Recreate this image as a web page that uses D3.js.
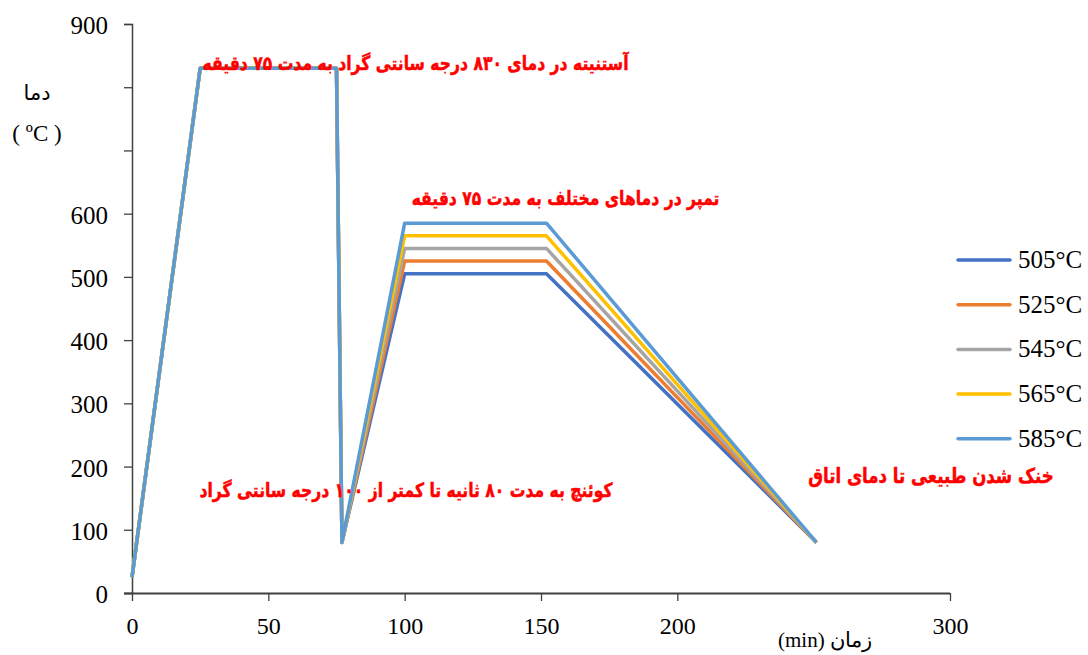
<!DOCTYPE html>
<html><head><meta charset="utf-8">
<script src="https://cdn.jsdelivr.net/npm/d3@7"></script>
<style>body{margin:0;background:#fff}svg{display:block}</style>
</head><body>
<script>
const seriesNames = ["505°C","525°C","545°C","565°C","585°C"];
const temperTemps = [505,525,545,565,585];
const seriesColors = ["#4472C4","#ED7D31","#A5A5A5","#FFC000","#5B9BD5"];
// time points (min) of the heat-treatment cycle
const times = [0, 25, 75, 77, 100, 152, 251];
// temperature profile shared by all series, null = tempering temperature
const baseTemps = [25, 830, 830, 80, null, null, 80];
const xTicks = [0,50,100,150,200,300];
const yTicks = [0,100,200,300,400,500,600,700,800,900];
const yLabels = [0,100,200,300,400,500,600,900];
const notes = [
  {text:"آستنیته در دمای ۸۳۰ درجه سانتی گراد به مدت ۷۵ دقیقه", x:104, y:827, size:15.6},
  {text:"تمپر در دماهای مختلف به مدت ۷۵ دقیقه", x:159, y:614, size:15.6},
  {text:"کوئنچ به مدت ۸۰ ثانیه تا کمتر از ۱۰۰ درجه سانتی گراد", x:100.5, y:152, size:15.6},
  {text:"خنک شدن طبیعی  تا دمای اتاق", x:293, y:174, size:16.6}
];

const W=1088,H=655;
const svg=d3.select("body").append("svg").attr("width",W).attr("height",H);
const x=d3.scaleLinear().domain([0,300]).range([132,950]);
const y=d3.scaleLinear().domain([0,900]).range([593,24]);
const serif="'Liberation Serif','Times New Roman',serif";
const axisColor="#404040";

// y axis
const ya=svg.append("g").attr("transform","translate(132,0)")
  .call(d3.axisLeft(y).tickValues(yTicks).tickSize(8).tickPadding(16)
    .tickFormat(d=>yLabels.includes(d)?d:""));
ya.select(".domain").attr("stroke",axisColor).attr("stroke-width",1.5);
ya.selectAll(".tick line").attr("stroke",axisColor).attr("stroke-width",1.3);
ya.selectAll(".tick text").attr("font-family",serif).attr("font-size",25).attr("fill","#000").attr("dy","0.38em");

// x axis
const xa=svg.append("g").attr("transform","translate(0,593)")
  .call(d3.axisBottom(x).tickValues(xTicks).tickSize(8).tickSizeOuter(0).tickPadding(16));
xa.select(".domain").attr("stroke",axisColor).attr("stroke-width",2.2).attr("d","M124,0.5H950");
xa.selectAll(".tick line").attr("stroke",axisColor).attr("stroke-width",1.3);
xa.selectAll(".tick text").attr("font-family",serif).attr("font-size",24).attr("fill","#000");

// lines
const line=d3.line().x(d=>x(d[0])).y(d=>y(d[1]));
temperTemps.forEach((T,i)=>{
  const pts=times.map((t,j)=>[t, baseTemps[j]===null?T:baseTemps[j]]);
  svg.append("path").datum(pts).attr("d",line).attr("fill","none")
    .attr("stroke",seriesColors[i]).attr("stroke-width",3.5).attr("stroke-linejoin","round");
});

// notes
notes.forEach(n=>{
  const g=svg.append("g").attr("transform",`translate(${x(n.x)},${y(n.y)}) scale(1,1.25)`);
  g.append("text").attr("x",0).attr("y",0).attr("text-anchor","middle")
    .attr("font-family","'DejaVu Sans',sans-serif").attr("font-weight","bold")
    .attr("font-size",n.size).attr("fill","#FF0000").attr("stroke","#FF0000").attr("stroke-width",0.4)
    .text(n.text);
});

// legend
seriesNames.forEach((s,i)=>{
  const cy=260+i*44.7;
  svg.append("line").attr("x1",958).attr("x2",1010).attr("y1",cy).attr("y2",cy)
    .attr("stroke",seriesColors[i]).attr("stroke-width",3.5).attr("stroke-linecap","round");
  svg.append("text").attr("x",1018).attr("y",cy+8).attr("font-family",serif)
    .attr("font-size",25).attr("fill","#000").text(s);
});

// axis titles
svg.append("text").attr("x",37).attr("y",100).attr("text-anchor","middle")
  .attr("font-family","'DejaVu Sans',sans-serif").attr("font-size",21).text("دما");
svg.append("text").attr("x",37).attr("y",141).attr("text-anchor","middle")
  .attr("font-family",serif).attr("font-size",23).text("( ºC )");
svg.append("text").attr("x",825).attr("y",647).attr("text-anchor","middle")
  .attr("font-family",serif).attr("font-size",21).text("(min) زمان");
</script>
</body></html>
